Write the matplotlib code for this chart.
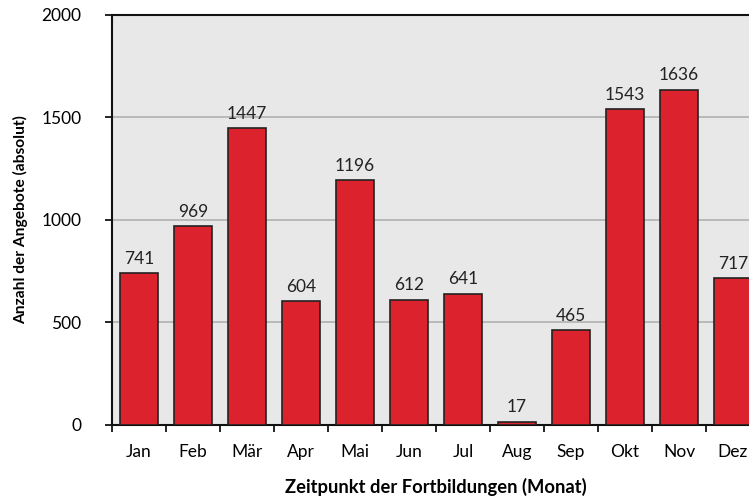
import matplotlib.pyplot as plt

months = ['Jan', 'Feb', 'Mär', 'Apr', 'Mai', 'Jun', 'Jul', 'Aug', 'Sep', 'Okt', 'Nov', 'Dez']
angebote = [741, 969, 1447, 604, 1196, 612, 641, 17, 465, 1543, 1636, 717]

plt.rcParams['font.family'] = ['Lato', 'DejaVu Sans']

fig = plt.figure(figsize=(7.49, 4.99), dpi=100)
# plot area runs a bit past the right edge, like the original crop
ax = fig.add_axes([0.1495, 0.1483, 0.8652, 0.8217])
ax.set_facecolor('#e8e8e8')

x = range(len(months))
ax.bar(x, angebote, width=0.7, color='#dc222d', edgecolor='#222222', linewidth=1.2, zorder=3)
for xi, v in zip(x, angebote):
    ax.text(xi, v + 30, str(v), ha='center', va='bottom', fontsize=12.5, color='#222222', zorder=4)

ax.set_xlim(-0.5, 11.5)
ax.set_ylim(0, 2000)
ax.set_yticks([0, 500, 1000, 1500, 2000])
ax.yaxis.grid(True, color='#b0b0b0', linewidth=1.2, zorder=0)
ax.set_axisbelow(True)

# ticks sit on category boundaries
ax.set_xticks([i - 0.5 for i in range(12)], minor=False)
ax.set_xticklabels([])
ax.set_xticks(list(x), minor=True)
ax.set_xticklabels(months, minor=True, fontsize=12.5)
ax.tick_params(axis='x', which='minor', length=0, pad=14)
ax.tick_params(axis='x', which='major', length=5, width=1.2, direction='out')
ax.tick_params(axis='y', length=5, width=1.2, direction='out', labelsize=12.5, pad=17)

for s in ['left', 'bottom', 'top']:
    ax.spines[s].set_linewidth(1.5)
    ax.spines[s].set_color('#111111')
ax.spines['right'].set_visible(False)

ax.set_xlabel('Zeitpunkt der Fortbildungen (Monat)', fontsize=13.2, fontweight='bold')
ax.set_ylabel('Anzahl der Angebote (absolut)', fontsize=11.2, fontweight='bold')
ax.xaxis.set_label_coords(0.5, -0.128)
ax.yaxis.set_label_coords(-0.1296, 0.5)

fig.savefig('out.png', dpi=100)
